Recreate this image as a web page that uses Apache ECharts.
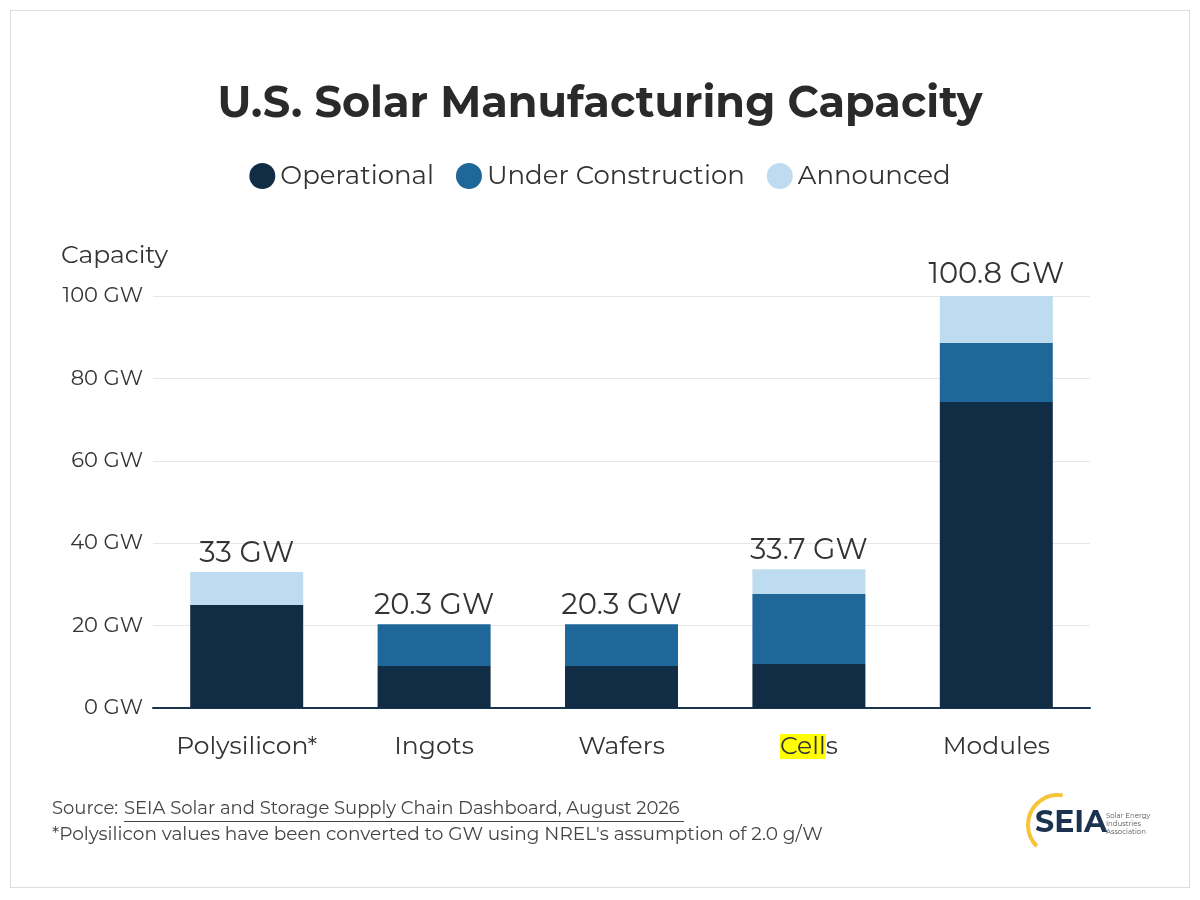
<!DOCTYPE html>
<html><head><meta charset="utf-8">
<script src="https://cdn.jsdelivr.net/npm/echarts@6/dist/echarts.min.js"></script>
<style>
html,body{margin:0;background:#fff;}
#frame{position:absolute;left:10px;top:10px;width:1178px;height:876px;border:1px solid #ddd;}
#c{position:absolute;left:0;top:0;width:1200px;height:900px;}
</style></head><body>
<div id="frame"></div>
<div id="c"></div>
<script>
const categories = ['Polysilicon*', 'Ingots', 'Wafers', 'Cells', 'Modules']
const operational = [25, 10.2, 10.2, 10.7, 74.3]
const underConstruction = [0, 10.1, 10.1, 17, 14.3]
const announced = [8, 0, 0, 6, 12.2]
const totals = ['33 GW', '20.3 GW', '20.3 GW', '33.7 GW', '100.8 GW']

const font = 'Montserrat, "Open Sans", sans-serif'
const chart = echarts.init(document.getElementById('c'))
const mk = (name, data, color) => ({
    name, data, type: 'bar', stack: 'cap', barWidth: 113, color,
    itemStyle: { color }
})
const series = [
    mk('Operational', operational, '#112d46'),
    mk('Under Construction', underConstruction, '#1f6699'),
    mk('Announced', announced, '#bddcf0')
]
series.push({
    type: 'bar', stack: 'cap', data: categories.map(() => 0.001), barWidth: 113,
    itemStyle: { color: 'transparent' }, silent: true, clip: false,
    label: {
        show: true, position: 'top', distance: 4,
        formatter: p => totals[p.dataIndex],
        fontSize: 29, color: '#333', fontFamily: font
    }
})
chart.setOption({
    animation: false,
    title: {
        text: 'U.S. Solar Manufacturing Capacity', left: 'center', top: 78,
        textStyle: { fontSize: 43, fontWeight: 'bold', color: '#2a2a2a', fontFamily: font }
    },
    legend: {
        data: ['Operational', 'Under Construction', 'Announced'],
        top: 158, left: 'center', icon: 'circle', itemWidth: 26, itemHeight: 26, itemGap: 22,
        textStyle: { fontSize: 26, color: '#333', fontFamily: font }
    },
    grid: { left: 153, right: 110, top: 296, bottom: 192 },
    xAxis: {
        type: 'category', data: categories,
        axisLine: { lineStyle: { color: '#1a3550', width: 2 } },
        axisTick: { show: false },
        axisLabel: {
            interval: 0, fontSize: 25, color: '#333', margin: 26, fontFamily: font,
            formatter: v => v === 'Cells' ? '{hl|Cell}s' : v,
            rich: { hl: { backgroundColor: '#ffff00', fontSize: 25, color: '#333', fontFamily: font } }
        }
    },
    yAxis: {
        type: 'value', min: 0, max: 100, interval: 20,
        name: 'Capacity', nameLocation: 'end', nameGap: 28,
        nameTextStyle: { fontSize: 25, color: '#333', align: 'right', padding: [0, -15, 0, 0], fontFamily: font },
        axisLabel: { formatter: '{value} GW', fontSize: 21, color: '#333', margin: 10, fontFamily: font },
        splitLine: { lineStyle: { color: '#e6e6e6' } }
    },
    graphic: [
        { type: 'text', left: 52, top: 800, style: { text: 'Source:', fontSize: 18, fill: '#444', fontFamily: font } },
        { type: 'text', left: 124, top: 800, style: { text: 'SEIA Solar and Storage Supply Chain Dashboard, August 2026', fontSize: 18, fill: '#444', fontFamily: font } },
        { type: 'rect', shape: { x: 124, y: 821, width: 560, height: 1 }, style: { fill: '#444' } },
        { type: 'text', left: 52, top: 825, style: { text: "*Polysilicon values have been converted to GW using NREL's assumption of 2.0 g/W", fontSize: 18.5, fill: '#444', fontFamily: font } },
        { type: 'arc', shape: { cx: 1058, cy: 825, r: 30, startAngle: Math.PI * 0.75, endAngle: Math.PI * 1.55 }, style: { stroke: '#f5c43a', lineWidth: 4, fill: null } },
        { type: 'text', left: 1035, top: 808, style: { text: 'SEIA', fontSize: 30, fontWeight: 'bold', fill: '#1c3350', fontFamily: font } },
        { type: 'text', left: 1106, top: 812, style: { text: 'Solar Energy\nIndustries\nAssociation', fontSize: 7, lineHeight: 8, fill: '#555', fontFamily: font } }
    ],
    series
})
</script>
</body></html>
